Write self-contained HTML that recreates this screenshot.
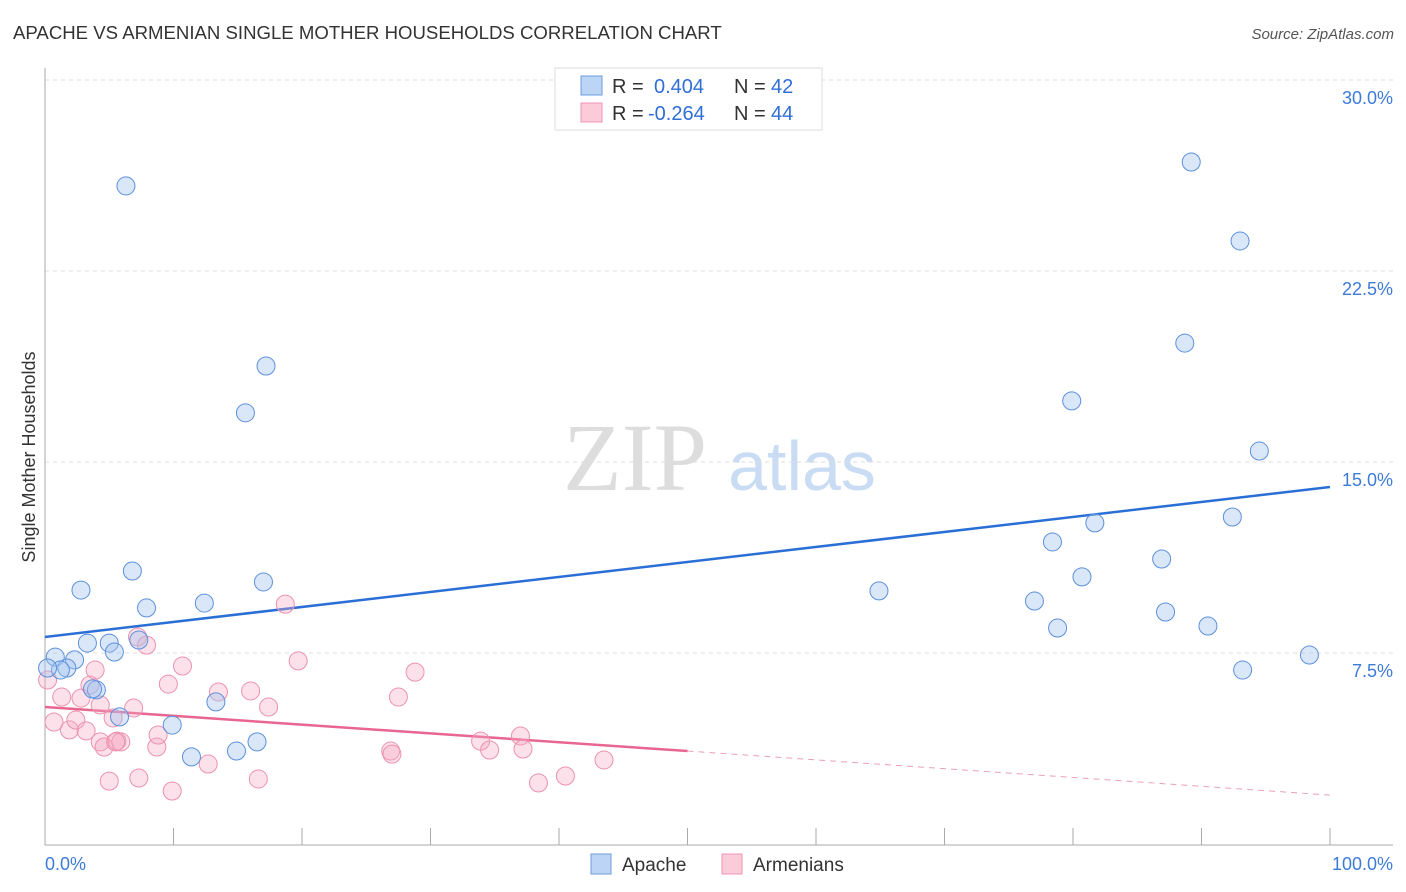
<!DOCTYPE html>
<html><head><meta charset="utf-8"><style>
body{margin:0;background:#fff;font-family:"Liberation Sans",sans-serif;}
svg{display:block}
</style></head><body>
<svg id="chart" width="1406" height="892">
<text x="13" y="39" font-size="18.6" fill="#333">APACHE VS ARMENIAN SINGLE MOTHER HOUSEHOLDS CORRELATION CHART</text>
<text x="1394" y="39" font-size="15" fill="#555" font-style="italic" text-anchor="end">Source: ZipAtlas.com</text>
<text x="35" y="457" font-size="18" fill="#333" text-anchor="middle" transform="rotate(-90 35 457)">Single Mother Households</text>
<g><text x="635" y="490" font-size="96" fill="#ddd" font-family="Liberation Serif,serif" text-anchor="middle">ZIP</text><text x="802" y="490" font-size="70" fill="#c9dcf3" text-anchor="middle">atlas</text></g>
<g id="grid"></g><g id="axes"></g><g id="lines"></g><g id="pts"></g>
<g>
<rect x="555" y="68" width="267" height="62" fill="#fff" stroke="#ddd"/>
<rect x="581" y="76" width="21" height="19" fill="#bcd4f5" stroke="#6d9be0"/>
<rect x="581" y="103" width="21" height="19" fill="#fbcbda" stroke="#ec95b0"/>
<text y="93" font-size="20" fill="#333"><tspan x="612">R =</tspan><tspan x="654" fill="#2f6fd6">0.404</tspan><tspan x="734">N =</tspan><tspan x="771" fill="#2f6fd6">42</tspan></text>
<text y="120" font-size="20" fill="#333"><tspan x="612">R =</tspan><tspan x="648" fill="#2f6fd6">-0.264</tspan><tspan x="734">N =</tspan><tspan x="771" fill="#2f6fd6">44</tspan></text>
</g>
<g>
<rect x="591" y="854" width="20" height="20" fill="#bcd4f5" stroke="#6d9be0"/>
<text x="622" y="871" font-size="19" fill="#333">Apache</text>
<rect x="722" y="854" width="20" height="20" fill="#fbcbda" stroke="#ec95b0"/>
<text x="753" y="871" font-size="19" fill="#333">Armenians</text>
</g>
</svg>
<script>
const yTicks=[7.5,15,22.5,30];
const yTickLabels=["7.5%","15.0%","22.5%","30.0%"];
const xTickLabels=["0.0%","100.0%"];
const apacheX=[6.3,17.2,15.6,2.8,6.8,7.9,12.4,17.0,3.3,5.0,5.4,7.3,0.8,2.3,1.7,1.2,4.0,3.7,5.8,9.9,13.3,11.4,14.9,16.5,0.2,89.2,93.0,88.7,79.9,94.5,81.7,92.4,78.4,86.9,80.7,64.9,77.0,87.2,78.8,90.5,93.2,98.4];
const apacheY=[25.84,18.77,16.93,9.97,10.72,9.27,9.46,10.29,7.89,7.89,7.54,8.01,7.34,7.23,6.91,6.83,6.05,6.09,4.99,4.67,5.58,3.42,3.65,4.01,6.91,26.78,23.68,19.67,17.40,15.43,12.61,12.84,11.86,11.19,10.49,9.94,9.54,9.11,8.48,8.56,6.83,7.42];
const armX=[0.2,0.7,1.3,1.9,2.4,2.8,3.2,3.5,3.9,4.3,4.3,4.6,5.0,5.3,5.6,5.9,6.9,7.3,7.2,7.9,8.7,8.8,9.6,9.9,10.7,12.7,13.5,16.0,16.6,17.4,18.7,19.7,26.9,27.0,27.5,28.8,33.9,34.6,37.0,37.2,38.4,40.5,43.5,5.5];
const armY=[6.44,4.79,5.77,4.48,4.87,5.73,4.44,6.24,6.83,5.46,4.01,3.81,2.47,4.95,4.04,4.01,5.34,2.59,8.13,7.81,3.81,4.28,6.28,2.08,6.99,3.14,5.97,6.01,2.55,5.38,9.42,7.19,3.65,3.53,5.77,6.75,4.04,3.69,4.24,3.73,2.40,2.67,3.30,4.01];
const apacheTrend=[8.13,14.02];
const armTrend=[5.38,1.92];
const armSolidEnd=50;
const NS="http://www.w3.org/2000/svg";
const X=v=>45+v*12.85, Y=v=>844-v*25.467;
function mk(t,a,p){const e=document.createElementNS(NS,t);for(const k in a)e.setAttribute(k,a[k]);p.appendChild(e);return e;}
const grid=document.getElementById('grid'),axes=document.getElementById('axes'),lines=document.getElementById('lines'),pts=document.getElementById('pts');
yTicks.forEach((t,i)=>{
 const g=mk('line',{x1:45,x2:1393,y1:Y(t),y2:Y(t),stroke:'#ddd','stroke-dasharray':'4,4'},grid);
 
 
 const l=mk('text',{x:1393,y:Y(t)+24,'font-size':18,fill:'#3d7bd9','text-anchor':'end'},grid);
 l.textContent=yTickLabels[i];
 
 
});
const ya=mk('line',{x1:45,x2:45,y1:68,y2:845,stroke:'#aaa'},axes);


const xa=mk('line',{x1:45,x2:1393,y1:845,y2:845,stroke:'#aaa'},axes);


for(let i=1;i<=10;i++){const t=mk('line',{x1:X(i*10),x2:X(i*10),y1:828,y2:845,stroke:'#aaa'},axes);
 
 }
[[0,'start',45],[100,'end',1393]].forEach((d,i)=>{const l=mk('text',{x:d[2],y:870,'font-size':18,fill:'#3d7bd9','text-anchor':d[1]},axes);l.textContent=xTickLabels[i];
 
 });
const bl=mk('line',{x1:X(0),y1:Y(apacheTrend[0]),x2:X(100),y2:Y(apacheTrend[1]),stroke:'#2a6fd6','stroke-width':2.5},lines);


const ym=armTrend[0]+(armTrend[1]-armTrend[0])*armSolidEnd/100;
const pl=mk('line',{x1:X(0),y1:Y(armTrend[0]),x2:X(armSolidEnd),y2:Y(ym),stroke:'#e8668f','stroke-width':2.5},lines);


const pd=mk('line',{x1:X(armSolidEnd),y1:Y(ym),x2:X(100),y2:Y(armTrend[1]),stroke:'#e8a0b6','stroke-width':1,'stroke-dasharray':'6,5'},lines);


armX.forEach((v,i)=>{const c=mk('circle',{cx:X(v),cy:Y(armY[i]),r:9,fill:'rgba(245,170,195,0.35)',stroke:'#ec92ae','stroke-width':1},pts);
 
 });
apacheX.forEach((v,i)=>{const c=mk('circle',{cx:X(v),cy:Y(apacheY[i]),r:9,fill:'rgba(160,195,240,0.4)',stroke:'#5d90dc','stroke-width':1},pts);
 
 });
</script>
</body></html>
